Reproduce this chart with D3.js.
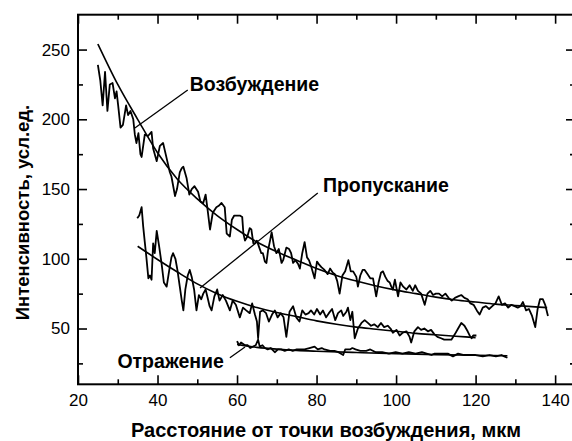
<!DOCTYPE html>
<html>
<head>
<meta charset="utf-8">
<script src="https://cdn.jsdelivr.net/npm/d3@7"></script>
<style>
  body { margin: 0; background: #fff; }
  svg { display: block; font-family: "Liberation Sans", Arial, sans-serif; }
</style>
</head>
<body>
<svg id="chart" width="572" height="441"></svg>
<script>
// --- data ---
// excitation (Возбуждение), measured
const excX = [25.0,25.6,26.2,26.8,27.4,28.0,28.7,29.3,29.7,30.1,30.7,31.3,32.1,32.6,33.2,33.9,34.3,34.7,35.2,35.7,36.0,36.8,37.6,38.5,38.9,39.8,40.6,41.4,42.3,43.1,43.5,44.4,44.9,45.6,46.1,46.5,47.3,48.0,48.6,49.3,50.2,50.8,51.5,52.1,52.6,53.2,53.9,54.8,55.4,56.1,56.9,57.4,58.2,58.7,59.3,59.9,60.7,61.3,61.6,62.0,62.6,63.2,63.6,64.1,64.5,65.0,65.6,66.1,66.5,67.0,67.4,67.8,68.3,68.7,69.3,69.9,70.5,71.2,71.6,72.4,73.1,73.6,74.1,74.7,75.4,75.8,76.4,77.0,77.6,78.1,78.7,79.5,80.1,80.6,81.2,82.0,82.8,83.4,84.1,84.6,85.2,85.8,86.5,87.2,88.0,88.6,89.2,90.0,90.4,91.0,91.6,92.1,92.8,93.5,94.2,95.0,95.6,96.2,96.7,97.3,97.9,98.4,98.8,99.2,99.7,100.5,101.1,101.8,102.6,103.4,104.2,104.8,105.5,106.3,107.2,107.9,108.6,109.3,110.0,110.8,111.6,112.4,113.2,114.0,114.8,115.6,116.4,117.2,118.0,118.7,119.5,120.3,121.0,121.8,122.6,123.4,124.2,125.0,125.8,126.6,127.4,128.2,129.0,129.8,130.6,131.3,131.9,132.7,133.4,134.2,135.0,135.6,136.2,136.9,137.5,138.2];
const excY = [239,228,210,234,206,225,226,215,220,210,194,196,210,203,206,200,189,183,190,175,173,189,188,191,179,170,181,183,172,162,159,145,150,162,165,166,158,146,150,152,148,141,140,146,135,121,133,137,138,140,137,118,116,128,131,131,131,130,118,113,116,122,121,111,111,113,108,104,104,98,97,106,113,119,109,104,107,97,99,108,107,104,97,99,96,93,104,112,101,99,94,86,98,96,94,92,89,93,90,89,84,75,88,91,99,91,91,87,80,88,92,92,89,86,86,73,83,90,91,87,84,83,80,78,85,73,83,80,78,81,77,81,77,75,67,75,77,74,75,75,73,75,72,70,72,73,74,72,71,68,67,63,60,65,66,64,66,68,73,67,68,65,67,66,65,66,69,63,64,59,51,64,71,71,67,59];
// transmission (Пропускание), measured
const trnX = [34.9,35.4,36.0,36.4,36.8,37.2,37.7,38.1,38.5,38.9,39.3,39.8,40.4,41.0,41.6,42.3,42.9,43.5,43.9,44.5,45.0,45.6,46.1,46.5,47.0,47.6,48.1,48.6,49.2,49.8,50.4,51.0,51.5,52.1,52.6,53.1,53.6,54.3,55.0,55.6,56.4,57.2,58.2,58.9,59.7,60.7,61.5,62.3,63.2,63.8,64.5,65.0,65.3,65.8,66.5,67.3,68.0,68.8,69.5,70.2,71.0,71.7,72.4,73.2,74.1,74.9,75.7,76.4,77.2,78.0,78.6,79.4,80.1,80.9,81.6,82.4,83.1,83.9,84.7,85.4,86.2,86.7,87.5,87.9,88.5,89.0,89.6,90.4,91.3,92.1,92.9,93.7,94.5,95.4,96.2,97.0,97.9,98.6,99.2,100.1,100.9,101.7,102.6,103.4,103.8,104.6,105.5,106.3,107.1,108.0,108.8,109.6,110.4,111.3,112.1,112.9,113.9,114.8,115.6,116.4,117.2,118.0,118.5,119.0,119.4,120.2];
const trnY = [129,131,137,123,112,101,86,88,85,111,104,120,109,97,83,80,91,101,104,100,92,80,70,63,78,88,92,87,78,63,74,71,75,78,72,66,63,73,78,70,74,70,63,70,67,58,65,63,61,68,60,55,43,62,63,61,55,60,63,58,61,58,44,62,66,58,55,63,60,61,63,60,64,60,63,58,61,64,56,61,63,59,62,65,56,62,43,50,54,56,54,52,53,51,54,51,52,50,47,49,45,47,48,44,40,48,51,49,50,48,49,46,44,43,42,42,42,46,50,54,52,48,45,43,45,45];
// reflection (Отражение), measured
const refX = [60.0,60.5,61.0,62.0,62.7,63.3,64.0,64.7,65.3,65.7,66.4,67.0,67.7,68.5,69.5,70.3,71.1,72.0,73.0,74.0,75.0,76.0,77.0,78.2,79.5,80.3,81.3,82.0,83.4,84.5,85.5,86.7,87.2,88.4,89.0,89.8,91.0,92.5,93.5,94.9,96.5,98.2,99.9,101.6,103.2,104.9,106.5,107.7,108.9,109.7,111.3,113.0,114.3,115.6,117.1,118.5,120.0,121.8,123.5,125.1,126.5,127.2,128.0];
const refY = [41,38,40,38,38,36,37,38,42,37,38,36,35,36,33,35,35,34,35,34,35,35,35,36,37,35,36,35,34,34,33,31,35,35,36,35,34,34,35,33,33,32,33,32,33,32,33,32,31,32,32,32,30,32,31,31,31,30,31,30,31,30,29];

// fitted curves
const excFitX = [25,30,35,40,45,50,55,60,65,70,75,80,85,90,95,100,105,110,115,120,125,130,135,138];
const excFitY = [254,225,200,176,157,143,131,121,112,105,99,93,88,84,80.5,77.5,75,72.5,70.5,69,67.5,66.5,65.5,65];
const trnFitX = [35,40,45,50,55,60,65,70,75,80,85,90,95,100,105,110,115,120];
const trnFitY = [109,99.5,90.5,82,75,69.5,65,61.5,58.5,55.5,53,51,49.5,48,46.5,45.5,44.5,43.5];
const refFitX = [60,65,70,75,80,90,100,110,120,128];
const refFitY = [38.5,36.5,35.2,34.3,33.7,32.8,32,31.3,30.8,30.5];

// axis ticks
const xMajor = [20,40,60,80,100,120,140];
const xMinor = [30,50,70,90,110,130];
const yMajor = [50,100,150,200,250];
const yMinor = [25,75,125,175,225];

// labels: text, anchor point [x,y], leader from/to
const labels = [
  { text: "Возбуждение", at: [48.1, 225], anchor: "start", from: [34.3, 193.7], to: [47.6, 221] },
  { text: "Пропускание", at: [81.6, 153], anchor: "start", from: [50.7, 79], to: [80.3, 147.2] },
  { text: "Отражение", at: [56.7, 26.7], anchor: "end", from: [58.2, 29], to: [62, 36.7] },
];

const svg = d3.select("#chart");
const mLeft = 78, mRight = 575, mTop = 14.7, mBottom = 384.3;

const x = d3.scaleLinear().domain([20, 145]).range([mLeft, mRight]);
const y = d3.scaleLinear().domain([10, 275]).range([mBottom, mTop]);

// frame
svg.append("rect")
  .attr("x", mLeft).attr("y", mTop)
  .attr("width", mRight - mLeft).attr("height", mBottom - mTop)
  .attr("fill", "none").attr("stroke", "#000").attr("stroke-width", 2);

function styleAxis(g) {
  g.select(".domain").remove();
  g.selectAll("line").attr("stroke", "#000").attr("stroke-width", 1.6);
  g.selectAll("text").attr("fill", "#000").style("font-size", "17px")
    .style("font-family", '"Liberation Sans", Arial, sans-serif');
}

// major / minor ticks on all four sides, pointing inward
svg.append("g").attr("transform", `translate(0,${mBottom})`)
  .call(d3.axisBottom(x).tickValues(xMajor).tickSize(-9).tickPadding(10).tickFormat(d3.format("d")))
  .call(styleAxis);
svg.append("g").attr("transform", `translate(0,${mBottom})`)
  .call(d3.axisBottom(x).tickValues(xMinor).tickSize(-5).tickFormat(""))
  .call(styleAxis);
svg.append("g").attr("transform", `translate(0,${mTop})`)
  .call(d3.axisTop(x).tickValues(xMajor).tickSize(-9).tickFormat(""))
  .call(styleAxis);
svg.append("g").attr("transform", `translate(0,${mTop})`)
  .call(d3.axisTop(x).tickValues(xMinor).tickSize(-5).tickFormat(""))
  .call(styleAxis);
svg.append("g").attr("transform", `translate(${mLeft},0)`)
  .call(d3.axisLeft(y).tickValues(yMajor).tickSize(-9).tickPadding(8).tickFormat(d3.format("d")))
  .call(styleAxis);
svg.append("g").attr("transform", `translate(${mLeft},0)`)
  .call(d3.axisLeft(y).tickValues(yMinor).tickSize(-5).tickFormat(""))
  .call(styleAxis);
svg.append("g").attr("transform", `translate(${mRight},0)`)
  .call(d3.axisRight(y).tickValues(yMajor).tickSize(-9).tickFormat(""))
  .call(styleAxis);
svg.append("g").attr("transform", `translate(${mRight},0)`)
  .call(d3.axisRight(y).tickValues(yMinor).tickSize(-5).tickFormat(""))
  .call(styleAxis);

// series
const rawLine = d3.line().x((d) => x(d[0])).y((d) => y(d[1]));
const fitLine = d3.line().x((d) => x(d[0])).y((d) => y(d[1])).curve(d3.curveMonotoneX);

const measured = [d3.zip(excX, excY), d3.zip(trnX, trnY), d3.zip(refX, refY)];
const fits = [d3.zip(excFitX, excFitY), d3.zip(trnFitX, trnFitY), d3.zip(refFitX, refFitY)];

svg.append("g").selectAll("path")
  .data(measured)
  .join("path")
  .attr("d", rawLine)
  .attr("fill", "none").attr("stroke", "#000")
  .attr("stroke-width", 1.8).attr("stroke-linejoin", "round");

svg.append("g").selectAll("path")
  .data(fits)
  .join("path")
  .attr("d", fitLine)
  .attr("fill", "none").attr("stroke", "#000").attr("stroke-width", 1.6);

// annotations with leader lines
svg.append("g").selectAll("line")
  .data(labels)
  .join("line")
  .attr("x1", (d) => x(d.from[0])).attr("y1", (d) => y(d.from[1]))
  .attr("x2", (d) => x(d.to[0])).attr("y2", (d) => y(d.to[1]))
  .attr("stroke", "#000").attr("stroke-width", 1.3);

svg.append("g").selectAll("text")
  .data(labels)
  .join("text")
  .text((d) => d.text)
  .attr("x", (d) => x(d.at[0])).attr("y", (d) => y(d.at[1]))
  .attr("dy", "0.35em")
  .attr("text-anchor", (d) => d.anchor)
  .style("font-size", "19.5px").style("font-weight", "bold");

// axis titles
svg.append("text")
  .text("Расстояние от точки возбуждения, мкм")
  .attr("x", 326).attr("y", 437)
  .attr("text-anchor", "middle")
  .style("font-size", "20px").style("font-weight", "bold");

svg.append("text")
  .text("Интенсивность, усл.ед.")
  .attr("transform", `translate(29,${(93 + 332) / 2}) rotate(-90)`)
  .attr("text-anchor", "middle")
  .style("font-size", "18.5px").style("font-weight", "bold");
</script>
</body>
</html>
